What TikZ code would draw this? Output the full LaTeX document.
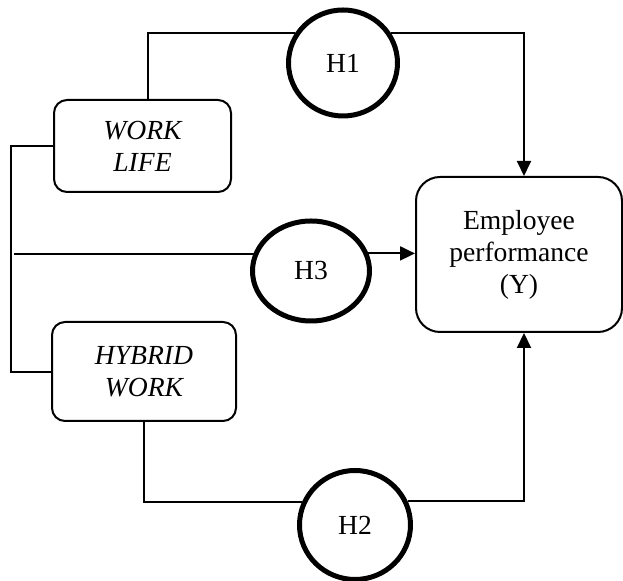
\documentclass[tikz,border=0pt]{standalone}
\usepackage{fontspec}
\setmainfont{Liberation Serif}
\usetikzlibrary{shapes.geometric, arrows.meta, positioning, calc}

\begin{document}
\begin{tikzpicture}[x=0.5pt, y=-0.5pt,
  varbox/.style={draw, line width=1pt, rounded corners=6.5pt, align=center,
    inner sep=0pt, font=\fontsize{13.8}{16}\selectfont},
  hyp/.style={draw, ellipse, line width=2.5pt, inner sep=0pt,
    font=\fontsize{13.8}{16}\selectfont},
  link/.style={line width=1pt},
  arr/.style={link, -{Triangle[length=7.5pt, width=7pt]}}]
\useasboundingbox (0,0) rectangle (623,581);

% Variables
\node[varbox, minimum width=88.5pt, minimum height=46pt] (wl) at (142.5,146) {\itshape WORK\\\itshape LIFE};
\node[varbox, minimum width=92pt, minimum height=49.5pt] (hw) at (144,371.5) {\itshape HYBRID\\\itshape WORK};
\node[varbox, rounded corners=12pt, minimum width=103pt, minimum height=77.5pt] (ep) at (519,254.5) {Employee\\performance\\(Y)};

% Hypotheses
\node[hyp, minimum width=54.5pt, minimum height=53pt] (h1) at (343,63) {H1};
\node[hyp, minimum width=58.5pt, minimum height=50pt] (h3) at (311,271) {H3};
\node[hyp, minimum width=55.5pt, minimum height=54.5pt] (h2) at (355,525) {H2};

% H1 path
\coordinate (c1) at (148,33);
\coordinate (c2) at (524,33);
\draw[link] (wl.north -| c1) -- (c1) -- (c1 -| h1.148);
\draw[arr] (c2 -| h1.32) -- (c2) -- (c2 |- ep.north);

% H3 path
\coordinate (b1) at (11,146);
\coordinate (b2) at (11,372);
\coordinate (b3) at (14,254);
\draw[link] (wl.west |- b1) -- (b1) -- (b2) -- (hw.west |- b2);
\draw[link] (b3) -- (b3 -| h3.162);
\draw[arr] (h3.17) -- (h3.17 -| ep.west);

% H2 path
\coordinate (c3) at (144,502);
\coordinate (c4) at (524,501);
\draw[link] (hw.south -| c3) -- (c3) -- (c3 -| h2.156);
\draw[arr] (c4 -| h2.24) -- (c4) -- (c4 |- ep.south);
\end{tikzpicture}
\end{document}
